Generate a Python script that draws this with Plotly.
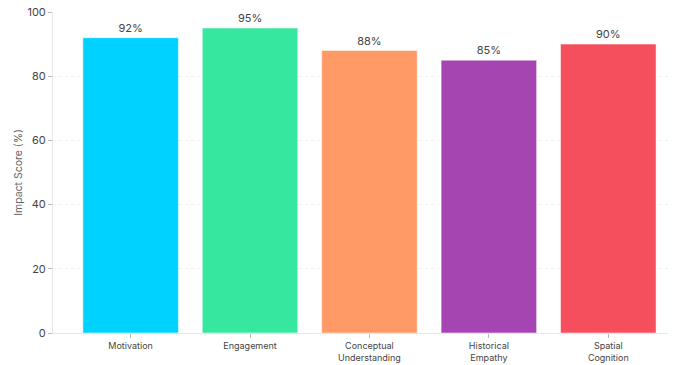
import plotly.graph_objects as go

categories = ["Motivation", "Engagement", "Conceptual<br>Understanding", "Historical<br>Empathy", "Spatial<br>Cognition"]
scores = [92, 95, 88, 85, 90]
labels = ["92%", "95%", "88%", "85%", "90%"]
colors = ["#00D2FF", "#36E89F", "#FF9A66", "#A445B2", "#F54E5C"]

fig = go.Figure(go.Bar(
    x=categories, y=scores, text=labels, textposition="outside",
    marker=dict(color=colors, line=dict(color="rgba(255,255,255,0.5)", width=1)),
    textfont=dict(size=11, color="#444"), cliponaxis=False,
))
fig.update_layout(
    width=676, height=365,
    margin=dict(l=53, r=8, t=12, b=32),
    paper_bgcolor="white", plot_bgcolor="white",
    font=dict(family="Inter, sans-serif", size=10, color="#444"),
    bargap=0.2, showlegend=False,
)
fig.update_xaxes(range=[-0.65, 4.5], showline=True, linecolor="#e6e6e6", linewidth=1, automargin=False,
                 ticks="outside", ticklen=4, tickcolor="#bbb", tickfont=dict(size=9, color="#444"))
fig.update_yaxes(range=[0, 100], dtick=20, showline=True, linecolor="#e6e6e6", linewidth=1, automargin=False,
                 ticks="outside", ticklen=4, tickcolor="#bbb", showgrid=True, gridcolor="#f0f0f0",
                 griddash="dot", zeroline=False, tickfont=dict(size=11, color="#444"),
                 title=dict(text="Impact Score (%)", font=dict(size=10.5, color="#666"), standoff=2))
fig.write_html("out.html")
